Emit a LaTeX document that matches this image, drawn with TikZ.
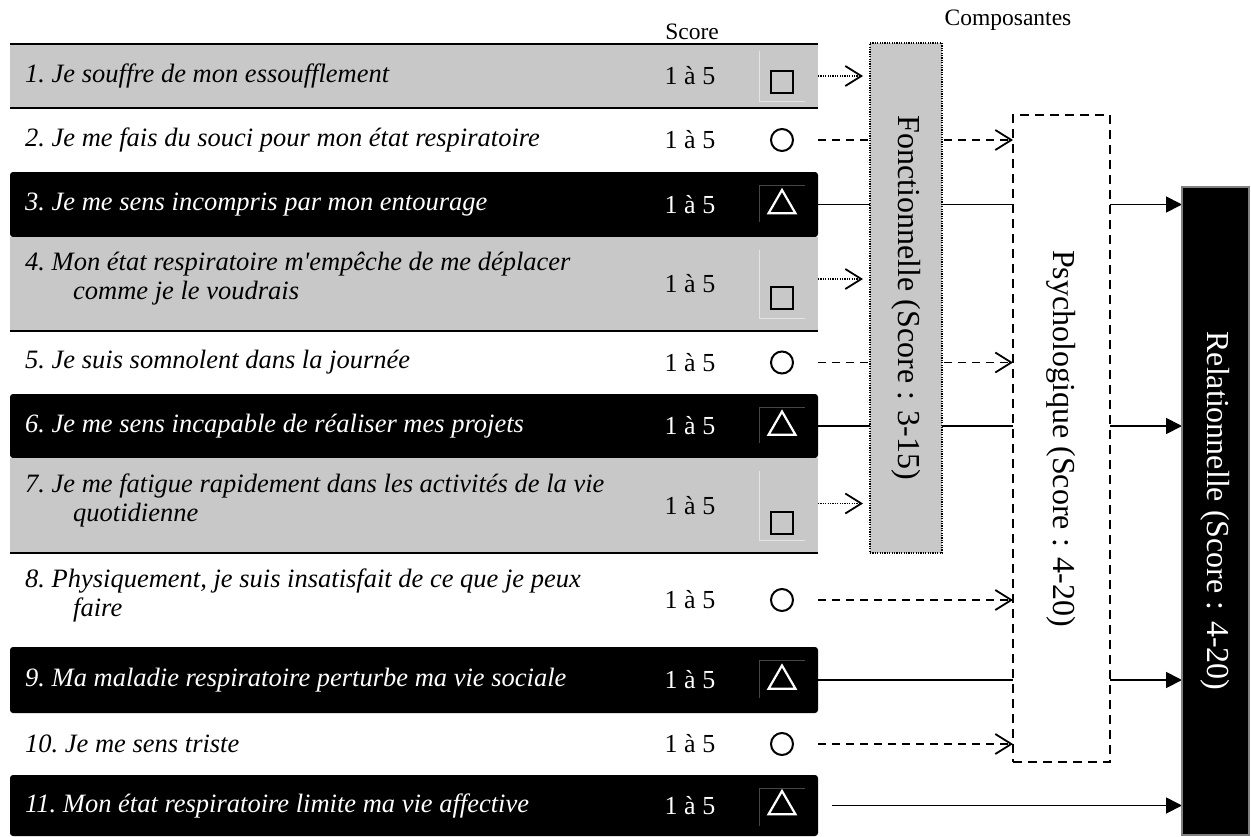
\documentclass[tikz,border=0pt]{standalone}
\usepackage{fontspec}
\setmainfont{Liberation Serif}
\usetikzlibrary{arrows.meta,shapes.geometric,backgrounds}
\definecolor{rowgray}{RGB}{200,200,200}
\definecolor{celllight}{RGB}{228,228,228}
\definecolor{celldark}{RGB}{70,70,70}
\newcommand\myrowfont{\fontsize{26.5}{29}\selectfont\itshape\frenchspacing}
\newcommand\myscfont{\fontsize{26}{29}\selectfont}
\newcommand\myhdfont{\fontsize{23.5}{26}\selectfont}
\newcommand\myvfont{\fontsize{32}{36}\selectfont}
\begin{document}
\begin{tikzpicture}[x=1pt,y=-1pt,
  rowbase/.style={rectangle,minimum width=808pt,inner sep=0pt,outer sep=0pt,anchor=north west},
  rowg/.style={rowbase,fill=rowgray},
  roww/.style={rowbase},
  rowb/.style={rowbase,fill=black,rounded corners=3pt},
  rowline/.style={line width=2pt},
  txt/.style={font=\myrowfont,inner sep=0pt,anchor=west,align=left},
  txtw/.style={txt,text=white},
  sc/.style={font=\myscfont,inner sep=0pt},
  scw/.style={sc,text=white},
  sqsym/.style={rectangle,draw=black,line width=2pt,minimum size=22pt,inner sep=0pt},
  cisym/.style={circle,draw=black,line width=2pt,minimum size=22pt,inner sep=0pt},
  trsym/.style={regular polygon,regular polygon sides=3,draw=white,line width=2.2pt,minimum size=31pt,inner sep=0pt},
  cellg/.style={draw=celllight,line width=1pt},
  cellb/.style={draw=celldark,line width=1pt},
  hd/.style={font=\myhdfont,inner sep=0pt},
  vtext/.style={font=\myvfont,rotate=-90,inner sep=0pt},
  dotarrow/.style={line width=1.3pt,dash pattern=on 1.2pt off 1.2pt,shorten >=7pt,
    -{Straight Barb[length=16pt,width=20pt,line width=1.8pt]}},
  dasharrow/.style={line width=1.7pt,dash pattern=on 8pt off 6pt,
    -{Straight Barb[length=16pt,width=20pt,line width=1.8pt]}},
  solidarrow/.style={line width=1.8pt,-{Triangle[length=16pt,width=16pt]}},
]
\useasboundingbox (0,0) rectangle (1251,836);

% headers
\node[hd] (hscore) at (692,32) {Score};
\node[hd] (hcomp) at (1008,20) {Composantes};

% rows
\node[rowg,minimum height=64pt] (r1) at (10,44) {};
\node[roww,minimum height=64pt] (r2) at (10,108) {};
\node[rowb,minimum height=65pt] (r3) at (10,172) {};
\node[rowg,minimum height=94pt] (r4) at (10,237) {};
\node[roww,minimum height=63pt] (r5) at (10,331) {};
\node[rowb,minimum height=64pt] (r6) at (10,394) {};
\node[rowg,minimum height=95pt] (r7) at (10,458) {};
\node[roww,minimum height=94pt] (r8) at (10,553) {};
\node[rowb,minimum height=66pt] (r9) at (10,647) {};
\node[roww,minimum height=62pt] (r10) at (10,713) {};
\node[rowb,minimum height=61pt] (r11) at (10,775) {};

% gray row borders
\draw[rowline] (r1.north west) -- (r1.north east);
\draw[rowline] (r1.south west) -- (r1.south east);
\draw[rowline] (r4.south west) -- (r4.south east);
\draw[rowline] (r7.south west) -- (r7.south east);

% faint cell lines
\draw[cellg] (759,51) -- (759,101) -- (805,101);
\draw[cellg] (759,250) -- (759,318) -- (805,318);
\draw[cellg] (759,471) -- (759,540) -- (805,540);
\draw[cellb] (759,222) -- (759,185) -- (805,185);
\draw[cellb] (759,443) -- (759,407) -- (805,407);
\draw[cellb] (759,698) -- (759,660) -- (805,660);
\draw[cellb] (759,826) -- (759,788) -- (805,788);

% texts
\node[txt] (t1) at ([xshift=15pt]r1.west) {1. Je souffre de mon essoufflement};
\node[txt] (t2) at ([xshift=15pt]r2.west) {2. Je me fais du souci pour mon état respiratoire};
\node[txtw] (t3) at ([xshift=15pt]r3.west) {3. Je me sens incompris par mon entourage};
\node[txt] (t4) at ([xshift=15pt,yshift=5pt]r4.west) {4. Mon état respiratoire m\textquotesingle empêche de me déplacer\\\hspace*{48pt}comme je le voudrais};
\node[txt] (t5) at ([xshift=15pt]r5.west) {5. Je suis somnolent dans la journée};
\node[txtw] (t6) at ([xshift=15pt]r6.west) {6. Je me sens incapable de réaliser mes projets};
\node[txt] (t7) at ([xshift=15pt,yshift=5pt]r7.west) {7. Je me fatigue rapidement dans les activités de la vie\\\hspace*{48pt}quotidienne};
\node[txt] (t8) at ([xshift=15pt,yshift=5pt]r8.west) {8. Physiquement, je suis insatisfait de ce que je peux\\\hspace*{48pt}faire};
\node[txtw] (t9) at ([xshift=15pt]r9.west) {9. Ma maladie respiratoire perturbe ma vie sociale};
\node[txt] (t10) at ([xshift=15pt]r10.west) {10. Je me sens triste};
\node[txtw] (t11) at ([xshift=15pt]r11.west) {11. Mon état respiratoire limite ma vie affective};

% scores
\node[sc] (n1) at ([xshift=680pt]r1.west) {1 à 5};
\node[sc] (n2) at ([xshift=680pt]r2.west) {1 à 5};
\node[scw] (n3) at ([xshift=680pt]r3.west) {1 à 5};
\node[sc] (n4) at ([xshift=680pt]r4.west) {1 à 5};
\node[sc] (n5) at ([xshift=680pt]r5.west) {1 à 5};
\node[scw] (n6) at ([xshift=680pt]r6.west) {1 à 5};
\node[sc] (n7) at ([xshift=680pt]r7.west) {1 à 5};
\node[sc] (n8) at ([xshift=680pt]r8.west) {1 à 5};
\node[scw] (n9) at ([xshift=680pt]r9.west) {1 à 5};
\node[sc] (n10) at ([xshift=680pt]r10.west) {1 à 5};
\node[scw] (n11) at ([xshift=680pt]r11.west) {1 à 5};

% symbols
\node[sqsym] (s1) at ([xshift=772pt,yshift=-6pt]r1.west) {};
\node[cisym] (s2) at ([xshift=772pt]r2.west) {};
\node[trsym] (s3) at ([xshift=772pt,yshift=-1pt]r3.west) {};
\node[sqsym] (s4) at ([xshift=772pt,yshift=-14pt]r4.west) {};
\node[cisym] (s5) at ([xshift=772pt]r5.west) {};
\node[trsym] (s6) at ([xshift=772pt,yshift=-1pt]r6.west) {};
\node[sqsym] (s7) at ([xshift=772pt,yshift=-17pt]r7.west) {};
\node[cisym] (s8) at ([xshift=772pt]r8.west) {};
\node[trsym] (s9) at ([xshift=772pt,yshift=-1pt]r9.west) {};
\node[cisym] (s10) at ([xshift=772pt]r10.west) {};
\node[trsym] (s11) at ([xshift=772pt,yshift=-1pt]r11.west) {};

% component boxes
\node[rectangle,fill=rowgray,draw=black,line width=1.2pt,dash pattern=on 1.2pt off 1.2pt,
  minimum width=72pt,minimum height=510pt,inner sep=0pt,outer sep=0pt,anchor=north west] (F) at (870,43) {};
\node[vtext] (Ft) at (F.center) {Fonctionnelle (Score : 3-15)};
\node[rectangle,fill=white,draw=black,line width=1.7pt,dash pattern=on 9pt off 6pt,
  minimum width=97pt,minimum height=647pt,inner sep=0pt,outer sep=0pt,anchor=north west] (P) at (1013,115) {};
\node[vtext] (Pt) at (P.center) {Psychologique (Score : 4-20)};
\node[rectangle,fill=black,draw=gray,line width=1.5pt,
  minimum width=67pt,minimum height=648pt,inner sep=0pt,outer sep=0pt,anchor=north west] (R) at (1182,187) {};
\node[vtext,text=white] (Rt) at (R.center) {Relationnelle (Score : 4-20)};

% connectors
\begin{scope}[on background layer]
\draw[dotarrow] (r1.east) -- (r1.east -| F.west);
\draw[dotarrow] ([yshift=5pt]r4.east) -- ([yshift=5pt]r4.east -| F.west);
\draw[dotarrow] ([yshift=2pt]r7.east) -- ([yshift=2pt]r7.east -| F.west);
\draw[dasharrow] (r2.east) -- (r2.east -| P.west);
\draw[dasharrow] (r5.east) -- (r5.east -| P.west);
\draw[dasharrow] (r8.east) -- (r8.east -| P.west);
\draw[dasharrow] (r10.east) -- (r10.east -| P.west);
\draw[solidarrow] (r3.east) -- (r3.east -| R.west);
\draw[solidarrow] (r6.east) -- (r6.east -| R.west);
\draw[solidarrow] (r9.east) -- (r9.east -| R.west);
\draw[solidarrow,shorten <=14pt] (r11.east) -- (r11.east -| R.west);
\end{scope}
\end{tikzpicture}
\end{document}
